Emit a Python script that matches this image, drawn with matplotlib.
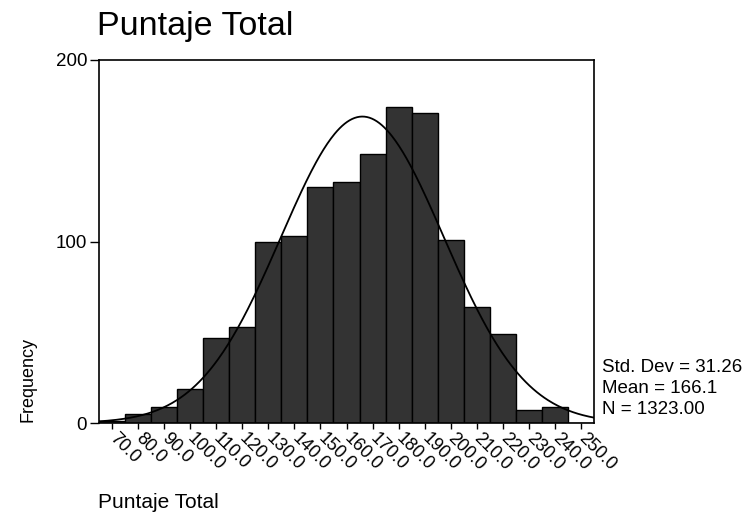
import numpy as np
import matplotlib
matplotlib.use("Agg")
import matplotlib.pyplot as plt

# ============================================================
# Data
# ============================================================

bin_centers = [70, 80, 90, 100, 110, 120, 130, 140, 150, 160,
               170, 180, 190, 200, 210, 220, 230, 240, 250]
counts = [1, 5, 9, 19, 47, 53, 100, 103, 130, 133,
          148, 174, 171, 101, 64, 49, 7, 9, 0]
tick_labels = [f"{c:.1f}" for c in bin_centers]

std_dev = 31.26
mean = 166.1
n_total = 1323
bin_width = 10

# ============================================================
# Figure
# ============================================================

plt.rcParams["font.family"] = ["Liberation Sans", "DejaVu Sans"]

fig = plt.figure(figsize=(7.51, 5.13), dpi=100)
ax = fig.add_axes([99 / 751, 1 - 423 / 513, (594 - 99) / 751, (423 - 60) / 513])

ax.bar(bin_centers, counts, width=bin_width, color="#333333",
       edgecolor="black", linewidth=1.0)

# fitted normal curve from the stats shown on the chart
xs = np.linspace(65, 255, 400)
ys = n_total * bin_width / (std_dev * np.sqrt(2 * np.pi)) * \
    np.exp(-0.5 * ((xs - mean) / std_dev) ** 2)
ax.plot(xs, ys, color="black", linewidth=1.3)

ax.set_xlim(65, 255)
ax.set_ylim(0, 200)
ax.set_yticks([0, 100, 200])
ax.set_xticks(bin_centers)
ax.set_xticklabels(tick_labels, rotation=-45, ha="left", va="center",
                   rotation_mode="anchor", fontsize=13)
ax.tick_params(axis="y", length=6.5, width=1, pad=2, labelsize=13.5)
ax.tick_params(axis="x", length=4.3, width=1, pad=5)
for s in ax.spines.values():
    s.set_linewidth(1.2)

# ------------------------------------------------------------
# Texts
# ------------------------------------------------------------
fig.text(97 / 751, 1 - 35 / 513, "Puntaje Total", fontsize=24.5,
         ha="left", va="baseline")
fig.text(98 / 751, 1 - 508 / 513, "Puntaje Total", fontsize=15,
         ha="left", va="baseline")
fig.text(28 / 751, 1 - 379 / 513, "Frequency", fontsize=13,
         rotation=90, ha="center", va="center")

stats = [f"Std. Dev = {std_dev:.2f}", f"Mean = {mean:.1f}", f"N = {n_total:.2f}"]
for i, line in enumerate(stats):
    fig.text(602 / 751, 1 - (367 + 21.5 * i) / 513, line, fontsize=13.5,
             ha="left", va="center")

fig.savefig("out.png", dpi=100)
